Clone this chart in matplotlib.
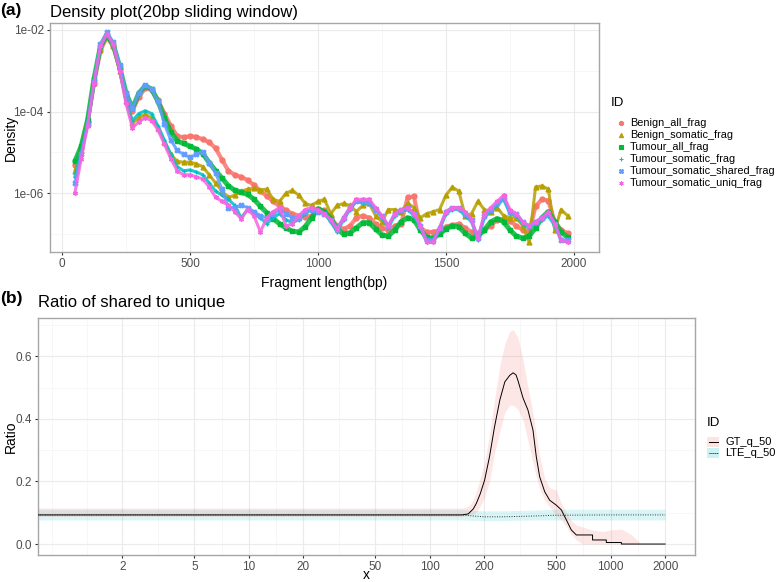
import numpy as np
import matplotlib
matplotlib.use('Agg')
import matplotlib.pyplot as plt
from matplotlib.lines import Line2D
from matplotlib.patches import Rectangle
from matplotlib.ticker import FixedLocator, NullFormatter

plt.rcParams['font.family'] = ['Liberation Sans', 'DejaVu Sans']

# ---- panel (a): density per fragment length, log10 values ----
frag_len = np.arange(50, 2000, 25)

benign_all_log10 = [
    -5.3, -4.9, -4.25, -3.3, -2.5, -2.18, -2.4, -2.95, -3.6, -3.98,
    -3.65, -3.42, -3.47, -3.72, -4.05, -4.35, -4.6, -4.63, -4.6, -4.62,
    -4.68, -4.75, -4.9, -5.18, -5.45, -5.55, -5.6, -5.68, -5.8, -5.95,
    -6.07, -6.2, -6.32, -6.42, -6.5, -6.55, -6.59, -6.55, -6.4, -6.42,
    -6.6, -6.8, -6.88, -6.8, -6.6, -6.55, -6.6, -6.75, -6.85, -6.9,
    -6.8, -6.75, -6.1, -6.08, -6.85, -6.95, -6.95, -6.9, -6.82, -6.78,
    -6.75, -6.85, -6.95, -6.98, -6.9, -6.8, -6.65, -6.63, -6.68, -6.8,
    -6.9, -6.95, -6.32, -6.15, -6.18, -6.7, -6.9, -6.98]
benign_somatic_log10 = [
    -5.45, -4.95, -4.28, -3.3, -2.5, -2.15, -2.4, -3.0, -3.75, -4.28,
    -4.15, -4.07, -4.15, -4.4, -4.75, -5.05, -5.22, -5.24, -5.24, -5.28,
    -5.35, -5.55, -5.75, -5.95, -6.1, -6.05, -5.95, -5.9, -5.88, -5.92,
    -5.9, -6.15, -6.2, -6.0, -5.93, -6.05, -6.25, -6.3, -6.2, -6.15,
    -6.5, -6.3, -6.25, -6.3, -6.45, -6.3, -6.25, -6.55, -6.7, -6.4,
    -6.4, -6.45, -6.25, -6.35, -6.6, -6.5, -6.45, -6.4, -6.05, -5.85,
    -5.95, -6.55, -6.5, -6.2, -6.4, -6.45, -6.35, -6.55, -6.6, -6.6,
    -6.8, -7.2, -5.85, -5.82, -5.9, -6.9, -6.4, -6.55]
tumour_all_log10 = [
    -5.22, -4.85, -4.2, -3.2, -2.4, -2.13, -2.35, -2.9, -3.55, -3.92,
    -3.55, -3.37, -3.45, -3.75, -4.15, -4.5, -4.72, -4.78, -4.85, -4.92,
    -5.03, -5.25, -5.45, -5.63, -5.82, -5.93, -5.98, -6.03, -6.15, -6.32,
    -6.48, -6.62, -6.75, -6.85, -6.93, -6.95, -6.82, -6.6, -6.38, -6.45,
    -6.62, -6.88, -7.0, -6.97, -6.85, -6.72, -6.72, -6.88, -7.02, -7.05,
    -6.9, -6.7, -6.6, -6.65, -6.9, -7.08, -7.1, -7.0, -6.87, -6.8,
    -6.82, -6.98, -7.1, -7.05, -6.9, -6.7, -6.62, -6.7, -6.9, -7.05,
    -7.1, -7.05, -6.85, -6.6, -6.45, -6.7, -6.95, -7.08]
tumour_somatic_log10 = [
    -5.6, -5.0, -4.3, -3.3, -2.42, -2.1, -2.35, -2.95, -3.7, -4.22,
    -4.05, -3.98, -4.05, -4.35, -4.7, -5.05, -5.35, -5.45, -5.43, -5.48,
    -5.55, -5.75, -5.95, -6.05, -6.15, -6.3, -6.6, -6.4, -6.5, -6.6,
    -6.75, -6.6, -6.5, -6.65, -6.72, -6.65, -6.5, -6.4, -6.45, -6.5,
    -6.7, -6.95, -6.65, -6.4, -6.2, -6.25, -6.2, -6.4, -6.6, -6.85,
    -6.55, -6.45, -6.4, -6.55, -6.85, -7.2, -7.2, -6.9, -6.5, -6.4,
    -6.4, -6.55, -6.7, -7.15, -6.6, -6.45, -6.3, -6.15, -6.5, -6.55,
    -6.75, -6.85, -6.75, -6.65, -6.55, -6.8, -7.15, -7.2]
tumour_shared_log10 = [
    -5.75, -5.05, -4.3, -3.25, -2.35, -2.05, -2.3, -2.85, -3.55, -3.92,
    -3.55, -3.35, -3.45, -3.75, -4.3, -4.7, -4.95, -5.05, -5.12, -5.05,
    -4.98, -5.25, -5.5, -5.9, -6.35, -6.35, -6.3, -6.35, -6.45, -6.55,
    -6.6, -6.5, -6.4, -6.5, -6.6, -6.6, -6.45, -6.4, -6.45, -6.5,
    -6.65, -6.85, -6.6, -6.35, -6.2, -6.2, -6.25, -6.4, -6.55, -6.8,
    -6.5, -6.4, -6.35, -6.5, -6.8, -7.15, -7.15, -6.85, -6.45, -6.35,
    -6.35, -6.5, -6.65, -7.1, -6.55, -6.4, -6.25, -6.1, -6.45, -6.5,
    -6.7, -6.8, -6.7, -6.6, -6.5, -6.75, -7.15, -7.15]
tumour_uniq_log10 = [
    -6.0, -5.15, -4.35, -3.3, -2.4, -2.1, -2.35, -3.0, -3.8, -4.4,
    -4.25, -4.15, -4.22, -4.45, -4.8, -5.15, -5.45, -5.55, -5.55, -5.6,
    -5.65, -5.85, -6.1, -6.2, -6.3, -6.45, -6.63, -6.4, -6.55, -6.95,
    -6.6, -6.45, -6.35, -6.8, -6.75, -6.55, -6.4, -6.35, -6.4, -6.5,
    -6.65, -6.9, -6.6, -6.35, -6.15, -6.15, -6.15, -6.35, -6.55, -6.8,
    -6.5, -6.4, -6.35, -6.5, -6.8, -7.2, -7.2, -6.85, -6.45, -6.35,
    -6.35, -6.45, -6.65, -7.1, -6.5, -6.35, -6.2, -6.05, -6.4, -6.5,
    -6.7, -6.8, -6.7, -6.6, -6.45, -6.75, -7.15, -7.2]

series_names = ['Benign_all_frag', 'Benign_somatic_frag', 'Tumour_all_frag',
                'Tumour_somatic_frag', 'Tumour_somatic_shared_frag', 'Tumour_somatic_uniq_frag']
series_vals = [benign_all_log10, benign_somatic_log10, tumour_all_log10,
               tumour_somatic_log10, tumour_shared_log10, tumour_uniq_log10]
series_cols = ['#F8766D', '#B79F00', '#00BA38', '#00BFC4', '#619CFF', '#F564E3']
series_mark = ['o', '^', 's', '+', 'X', (6, 2, 0)]

# ---- panel (b): ratio of shared to unique ----
gt_x = [0.5, 150, 163, 174, 181, 190, 201, 214, 228, 244, 260, 277, 289, 300, 307,
        328, 349, 372, 388, 405, 432, 460, 501, 534, 569, 606, 646, 794, 794,
        946, 946, 1146, 1146, 2000]
gt_mid = [0.093, 0.093, 0.096, 0.112, 0.13, 0.16, 0.204, 0.279, 0.374, 0.46, 0.518,
          0.539, 0.547, 0.54, 0.523, 0.466, 0.428, 0.364, 0.279, 0.215, 0.167, 0.14,
          0.124, 0.109, 0.077, 0.045, 0.029, 0.029, 0.013, 0.013, 0.005, 0.005, 0.0, 0.0]

gt_band_x = [0.5, 150, 163, 174, 181, 190, 201, 214, 228, 244, 260, 277, 289, 307, 328,
             349, 372, 388, 405, 432, 460, 501, 534, 569, 606, 646, 700, 781, 904,
             1000, 1146, 1300, 1450]
gt_lo = [0.088, 0.088, 0.09, 0.095, 0.103, 0.12, 0.15, 0.2, 0.29, 0.36, 0.42, 0.444,
         0.444, 0.43, 0.396, 0.33, 0.26, 0.215, 0.175, 0.14, 0.119, 0.09, 0.077, 0.055,
         0.03, 0.013, 0.0, 0.0, 0.0, 0.0, 0.0, 0.0, 0.0]
gt_hi = [0.115, 0.115, 0.12, 0.14, 0.17, 0.21, 0.26, 0.35, 0.46, 0.57, 0.64, 0.68,
         0.685, 0.66, 0.59, 0.5, 0.42, 0.35, 0.28, 0.21, 0.18, 0.172, 0.13, 0.1,
         0.075, 0.06, 0.055, 0.045, 0.04, 0.045, 0.048, 0.03, 0.005]

lte_x = [0.5, 150, 170, 200, 250, 300, 400, 500, 1000, 2000]
lte_mid = [0.093, 0.093, 0.09, 0.087, 0.087, 0.088, 0.09, 0.092, 0.093, 0.093]
lte_lo = [0.077, 0.077, 0.076, 0.075, 0.075, 0.076, 0.077, 0.077, 0.077, 0.077]
lte_hi = [0.111, 0.111, 0.108, 0.106, 0.106, 0.107, 0.109, 0.111, 0.111, 0.111]

W, H = 777, 582
fig = plt.figure(figsize=(W / 100, H / 100), dpi=100)


def fpos(x, y):
    return x / W, 1 - y / H


grey_txt = '#4D4D4D'
border = '#A6A6A6'


def style_axes(ax):
    ax.set_facecolor('white')
    for s in ax.spines.values():
        s.set_color(border)
        s.set_linewidth(1.0)
    ax.grid(True, which='major', color='#EBEBEB', lw=0.8, zorder=0)
    ax.grid(True, which='minor', color='#F4F4F4', lw=0.5, zorder=0)
    ax.set_axisbelow(True)
    ax.tick_params(which='major', length=2.5, color='#333333', labelsize=8.5, labelcolor=grey_txt, pad=2)
    ax.tick_params(which='minor', length=0)


# panel (a)
ax1 = fig.add_axes([50 / W, 1 - 252 / H, 549 / W, 229 / H])
style_axes(ax1)
ax1.set_yscale('log')
for name, vals, col, mk in zip(series_names, series_vals, series_cols, series_mark):
    dens = 10 ** np.array(vals)
    lw = {'Tumour_all_frag': 3.6, 'Benign_all_frag': 3.0}.get(name, 2.2)
    ax1.plot(frag_len, dens, color=col, lw=lw, alpha=0.85, zorder=3, solid_capstyle='round')
    ax1.plot(frag_len, dens, ls='none', marker=mk, ms=3.5, color=col, mew=1.0, zorder=3)
ax1.set_xlim(-47, 2098)
ax1.set_ylim(10 ** -7.44, 10 ** -1.83)
ax1.xaxis.set_major_locator(FixedLocator([0, 500, 1000, 1500, 2000]))
ax1.xaxis.set_minor_locator(FixedLocator([250, 750, 1250, 1750]))
ax1.yaxis.set_major_locator(FixedLocator([1e-2, 1e-4, 1e-6]))
ax1.yaxis.set_minor_locator(FixedLocator([1e-3, 1e-5, 1e-7]))
ax1.yaxis.set_minor_formatter(NullFormatter())
ax1.set_yticklabels(['1e-02', '1e-04', '1e-06'])
ax1.set_xlabel('Fragment length(bp)', fontsize=10, va='center')
ax1.set_ylabel('Density', fontsize=10, va='center')
ax1.xaxis.set_label_coords(0.5, (252 - 283) / 229)
ax1.yaxis.set_label_coords((11 - 50) / 549, 0.5)

fig.text(*fpos(0, 10), '(a)', fontsize=12.5, fontweight='bold', va='center', ha='left')
fig.text(*fpos(50, 12), 'Density plot(20bp sliding window)', fontsize=12, va='center', ha='left')

# legend (a)
fig.text(*fpos(611, 103), 'ID', fontsize=9.5, va='center', ha='left')
for i, (name, col, mk) in enumerate(zip(series_names, series_cols, series_mark)):
    yy = 123.3 + i * 11.9
    fig.add_artist(Line2D([620.7 / W], [1 - yy / H], marker=mk, ms=3, color=col, ls='none',
                          mew=0.8, transform=fig.transFigure))
    fig.text(*fpos(630, yy), name, fontsize=7.8, va='center', ha='left')

# panel (b)
ax2 = fig.add_axes([38 / W, 1 - 555 / H, 657 / W, 237 / H])
style_axes(ax2)
ax2.set_xscale('log')
ax2.fill_between(lte_x, lte_lo, lte_hi, color='#00BFC4', alpha=0.15, lw=0, zorder=2)
ax2.fill_between(gt_band_x, gt_lo, gt_hi, color='#F8766D', alpha=0.17, lw=0, zorder=2)
ax2.plot(gt_x, gt_mid, color='black', lw=0.7, zorder=3)
ax2.plot(lte_x, lte_mid, color='#333333', lw=0.7, ls=(0, (1, 1.5)), zorder=3)
ax2.set_xlim(10 ** -0.165, 10 ** 3.466)
ax2.set_ylim(-0.035, 0.722)
xt = [2, 5, 10, 20, 50, 100, 200, 500, 1000, 2000]
ax2.xaxis.set_major_locator(FixedLocator(xt))
ax2.set_xticklabels([str(v) for v in xt])
ax2.xaxis.set_minor_locator(FixedLocator([0.82, 1.28, 3.16, 7.07, 14.1, 31.6, 70.7,
                                          141, 316, 707, 1414]))
ax2.xaxis.set_minor_formatter(NullFormatter())
ax2.yaxis.set_major_locator(FixedLocator([0.0, 0.2, 0.4, 0.6]))
ax2.yaxis.set_minor_locator(FixedLocator([0.1, 0.3, 0.5, 0.7]))
ax2.set_yticklabels(['0.0', '0.2', '0.4', '0.6'])
ax2.set_xlabel('x', fontsize=10, va='center')
ax2.set_ylabel('Ratio', fontsize=10, va='center')
ax2.xaxis.set_label_coords(0.5, (555 - 575) / 237)
ax2.yaxis.set_label_coords((11 - 38) / 657, 0.5)

fig.text(*fpos(0, 298), '(b)', fontsize=12.5, fontweight='bold', va='center', ha='left')
fig.text(*fpos(38, 303), 'Ratio of shared to unique', fontsize=12, va='center', ha='left')

# legend (b)
fig.text(*fpos(707, 423), 'ID', fontsize=9.5, va='center', ha='left')
leg_b = [('GT_q_50', '#F8766D', '-'), ('LTE_q_50', '#00BFC4', (0, (1, 1)))]
for i, (name, col, ls) in enumerate(leg_b):
    yy = 441.7 + i * 11
    x0, y0 = fpos(707, yy + 5)
    fig.add_artist(Rectangle((x0, y0), 12 / W, 10 / H, transform=fig.transFigure,
                             facecolor=col, alpha=0.2, lw=0))
    fig.add_artist(Line2D([708.5 / W, 717.5 / W], [1 - yy / H] * 2, color='black', lw=0.7,
                          ls=ls, transform=fig.transFigure))
    fig.text(*fpos(725, yy), name, fontsize=8, va='center', ha='left')

fig.savefig('out.png', dpi=100)
